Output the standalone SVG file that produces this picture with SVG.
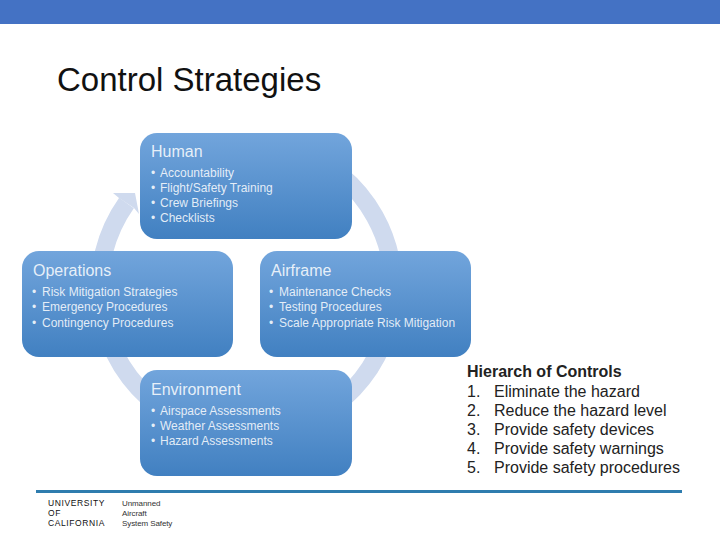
<svg xmlns="http://www.w3.org/2000/svg" width="720" height="540" viewBox="0 0 720 540">
<style>
text{font-family:"Liberation Sans",Arial,sans-serif}
.box{fill:url(#g)}
.h{font-size:16px;fill:#fff;fill-opacity:.85}
.b{font-size:12px;fill:#fff;fill-opacity:.85}
.d{font-size:12px;fill:#fff;fill-opacity:.85}
.r{font-size:16px;fill:#222}
.lg{font-size:8.5px;fill:#111;letter-spacing:.6px}
.ls{font-size:8px;fill:#333;letter-spacing:-.1px}
</style>
<defs>
<linearGradient id="g" x1="0" y1="0" x2="0" y2="1"><stop offset="0" stop-color="#72a5dc"/><stop offset="1" stop-color="#4180c1"/></linearGradient>
</defs>
<rect width="720" height="540" fill="#fff"/>
<rect width="720" height="24" fill="#4472c4"/>
<text x="57" y="91" font-size="33" fill="#111">Control Strategies</text>
<g id="connectors">
<path d="M340 174.6A147 147 0 1 1 126.5 203" fill="none" stroke="#cfdaee" stroke-width="18"/>
<polygon points="113,193 135,193 139,214 134,208 119,198" fill="#cfdaee"/>
</g>
<g id="human"><rect class="box" x="140" y="133" width="212" height="106" rx="17"/>
<text class="h" x="151" y="157">Human</text>
<text class="d" x="151" y="177">•</text><text class="b" x="160" y="177">Accountability</text>
<text class="d" x="151" y="192">•</text><text class="b" x="160" y="192">Flight/Safety Training</text>
<text class="d" x="151" y="207">•</text><text class="b" x="160" y="207">Crew Briefings</text>
<text class="d" x="151" y="222">•</text><text class="b" x="160" y="222">Checklists</text></g>
<g id="operations"><rect class="box" x="22" y="251" width="211" height="106" rx="17"/>
<text class="h" x="33" y="276">Operations</text>
<text class="d" x="32" y="296">•</text><text class="b" x="42" y="296">Risk Mitigation Strategies</text>
<text class="d" x="32" y="311">•</text><text class="b" x="42" y="311">Emergency Procedures</text>
<text class="d" x="32" y="327">•</text><text class="b" x="42" y="327">Contingency Procedures</text></g>
<g id="airframe"><rect class="box" x="260" y="251" width="211" height="106" rx="17"/>
<text class="h" x="271" y="276">Airframe</text>
<text class="d" x="269" y="296">•</text><text class="b" x="279" y="296">Maintenance Checks</text>
<text class="d" x="269" y="311">•</text><text class="b" x="279" y="311">Testing Procedures</text>
<text class="d" x="269" y="327">•</text><text class="b" x="279" y="327">Scale Appropriate Risk Mitigation</text></g>
<g id="environment"><rect class="box" x="140" y="370" width="212" height="106" rx="17"/>
<text class="h" x="151" y="395">Environment</text>
<text class="d" x="151" y="415">•</text><text class="b" x="160" y="415">Airspace Assessments</text>
<text class="d" x="151" y="430">•</text><text class="b" x="160" y="430">Weather Assessments</text>
<text class="d" x="151" y="445">•</text><text class="b" x="160" y="445">Hazard Assessments</text></g>
<g id="hierarchy">
<text class="r" x="467" y="377" font-weight="bold">Hierarch of Controls</text>
<text class="r" x="467" y="397">1.</text><text class="r" x="494" y="397">Eliminate the hazard</text>
<text class="r" x="467" y="416">2.</text><text class="r" x="494" y="416">Reduce the hazard level</text>
<text class="r" x="467" y="435">3.</text><text class="r" x="494" y="435">Provide safety devices</text>
<text class="r" x="467" y="454">4.</text><text class="r" x="494" y="454">Provide safety warnings</text>
<text class="r" x="467" y="473">5.</text><text class="r" x="494" y="473">Provide safety procedures</text>
</g>
<rect x="36" y="490" width="646" height="3" fill="#2e7cae"/>
<g id="logo">
<text class="lg" x="48" y="506">UNIVERSITY</text>
<text class="lg" x="48" y="516">OF</text>
<text class="lg" x="48" y="526">CALIFORNIA</text>
<text class="ls" x="122" y="506">Unmanned</text>
<text class="ls" x="122" y="516">Aircraft</text>
<text class="ls" x="122" y="526">System Safety</text>
</g>
</svg>
